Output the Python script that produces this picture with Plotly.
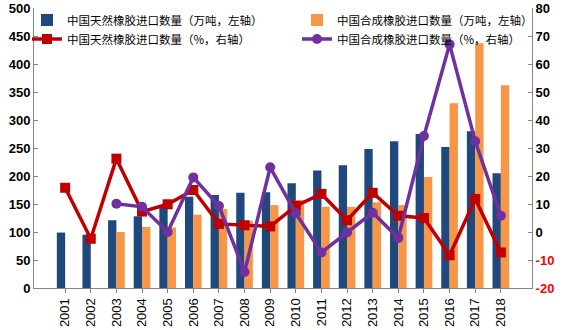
import plotly.graph_objects as go

years = [str(y) for y in range(2001, 2019)]
natural_vol = [99, 95, 121, 128, 145, 163, 166, 170, 171, 187, 210, 219, 248, 262, 275, 252, 280, 205]
synthetic_vol = [None, None, 100, 109, 108, 131, 141, 120, 148, 157, 145, 145, 153, 148, 198, 330, 437, 362]
natural_pct = [15.8, -2.4, 26.2, 7.3, 9.9, 15.0, 2.9, 2.4, 2.0, 9.3, 13.6, 4.2, 14.0, 5.8, 5.0, -8.3, 11.8, -7.3]
synthetic_pct = [None, None, 10.1, 9.0, 0.0, 19.5, 9.3, -14.3, 23.1, 6.7, -7.3, -0.2, 6.9, -2.1, 34.3, 67.0, 32.4, 5.8]

names = ["中国天然橡胶进口数量（万吨，左轴）", "中国合成橡胶进口数量（万吨，左轴）",
         "中国天然橡胶进口数量（%，右轴）", "中国合成橡胶进口数量（%，右轴）"]

left_ticks = list(range(0, 501, 50))
right_ticks = list(range(-20, 81, 10))
right_text = [f'<span style="color:#FF0000">{v}</span>' if v < 0 else str(v) for v in right_ticks]

fig = go.Figure()
fig.add_trace(go.Bar(x=years, y=natural_vol, name=names[0], marker_color="#1F497D",
                     marker_line_width=0, legend="legend"))
fig.add_trace(go.Bar(x=years, y=synthetic_vol, name=names[1], marker_color="#F79646",
                     marker_line_width=0, legend="legend2"))
fig.add_trace(go.Scatter(x=years, y=natural_pct, name=names[2], yaxis="y2", mode="lines+markers",
                         line=dict(color="#C00000", width=3.5),
                         marker=dict(symbol="square", size=10, color="#C00000"), legend="legend"))
fig.add_trace(go.Scatter(x=years, y=synthetic_pct, name=names[3], yaxis="y2", mode="lines+markers",
                         line=dict(color="#7030A0", width=3.5),
                         marker=dict(symbol="circle", size=10, color="#7030A0"), legend="legend2"))

legend_common = dict(orientation="v", yanchor="top", xanchor="left", bgcolor="rgba(0,0,0,0)",
                     xref="container", yref="container",
                     font=dict(size=11.5, family="'Noto Sans CJK SC', SimSun, sans-serif"),
                     itemwidth=30, tracegroupgap=0, traceorder="normal")

fig.update_layout(
    width=567, height=330,
    margin=dict(l=34, r=35, t=8, b=42, autoexpand=False),
    paper_bgcolor="white", plot_bgcolor="white",
    barmode="group", bargap=0.35, bargroupgap=0,
    showlegend=True,
    font=dict(family="Arial, 'Noto Sans CJK SC'", color="black"),
    legend=dict(x=27 / 567, y=1 - 5.5 / 330, **legend_common),
    legend2=dict(x=297 / 567, y=1 - 5.5 / 330, **legend_common),
    xaxis=dict(type="category", showline=True, linecolor="#868686", linewidth=1,
               ticks="outside", ticklen=4, tickcolor="#868686", tickangle=-90,
               tickfont=dict(size=13, family="Arial"), showgrid=False),
    yaxis=dict(range=[0, 500], tickvals=left_ticks, showline=True, linecolor="#868686",
               linewidth=1, ticks="inside", ticklen=4, tickcolor="#868686", showgrid=False,
               zeroline=False, tickfont=dict(size=13, family="Arial", weight="bold")),
    yaxis2=dict(range=[-20, 80], overlaying="y", side="right", tickvals=right_ticks,
                ticktext=right_text, showline=True, linecolor="#868686", linewidth=1,
                ticks="inside", ticklen=4, tickcolor="#868686", showgrid=False,
                zeroline=False, tickfont=dict(size=13, family="Arial", weight="bold")),
)

fig.write_html("out.html")
